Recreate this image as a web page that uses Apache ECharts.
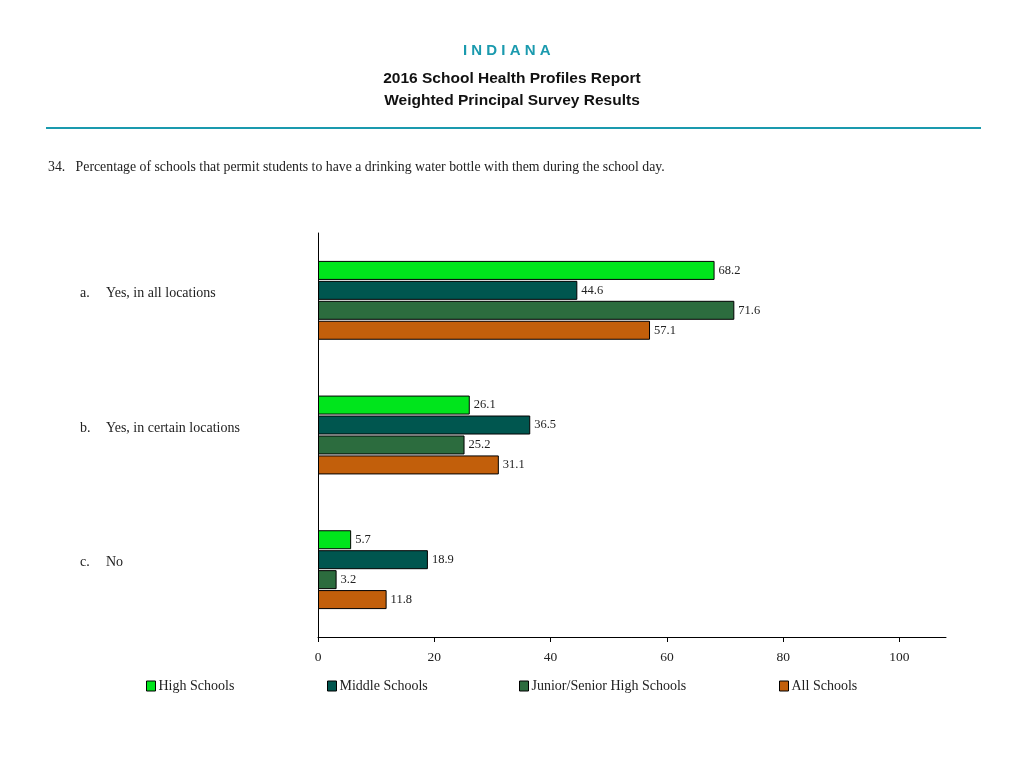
<!DOCTYPE html>
<html>
<head>
<meta charset="utf-8">
<script src="https://cdn.jsdelivr.net/npm/echarts@6/dist/echarts.min.js"></script>
<style>
  html, body { margin: 0; padding: 0; background: #fff; }
  #chart { width: 1024px; height: 768px; }
</style>
</head>
<body>
<div id="chart"></div>
<script>
var letters = ['a.', 'b.', 'c.'];
var categories = ['Yes, in all locations', 'Yes, in certain locations', 'No'];
var seriesNames = ['High Schools', 'Middle Schools', 'Junior/Senior High Schools', 'All Schools'];
var highSchools = [68.2, 26.1, 5.7];
var middleSchools = [44.6, 36.5, 18.9];
var juniorSenior = [71.6, 25.2, 3.2];
var allSchools = [57.1, 31.1, 11.8];
var xTicks = [0, 20, 40, 60, 80, 100];

var colors = ['#00e51c', '#00564f', '#2c6c3e', '#c25f0b'];
var values = [highSchools, middleSchools, juniorSenior, allSchools];
var legendLeft = [146, 327, 519, 779];
var serif = '"Liberation Serif", "DejaVu Serif", serif';
var sans = '"Liberation Sans", Arial, sans-serif';

var myChart = echarts.init(document.getElementById('chart'));

var series = [];
var legends = [];
for (var i = 0; i < seriesNames.length; i++) {
  series.push({
    name: seriesNames[i],
    type: 'bar',
    data: values[i],
    barWidth: 19,
    barGap: '5%',
    itemStyle: { color: colors[i], borderColor: '#000', borderWidth: 1 },
    label: {
      show: true,
      position: 'right',
      distance: 4,
      fontFamily: serif,
      fontSize: 12.5,
      color: '#222',
      formatter: function (p) { return p.value.toFixed(1); }
    }
  });
  legends.push({
    data: [seriesNames[i]],
    left: legendLeft[i],
    top: 679,
    padding: 0,
    itemWidth: 9,
    itemHeight: 10,
    itemGap: 0,
    icon: 'rect',
    itemStyle: { borderColor: '#000', borderWidth: 1 },
    textStyle: { fontFamily: serif, fontSize: 14, color: '#222', padding: [0, 0, 0, -2] }
  });
}

var option = {
  animation: false,
  legend: legends,
  grid: { left: 318, right: 78, top: 233, bottom: 131, containLabel: false },
  xAxis: {
    type: 'value',
    min: 0,
    max: 108,
    interval: 20,
    axisLine: { show: true, lineStyle: { color: '#000', width: 1 } },
    axisTick: { show: true, length: 5, lineStyle: { color: '#000' }, customValues: xTicks },
    axisLabel: { fontFamily: serif, fontSize: 13.5, color: '#222', margin: 13, customValues: xTicks },
    splitLine: { show: false }
  },
  yAxis: {
    type: 'category',
    inverse: true,
    data: categories,
    axisLine: { show: true, lineStyle: { color: '#000', width: 1 } },
    axisTick: { show: false },
    axisLabel: {
      align: 'left',
      margin: 238,
      padding: [0, 0, 14, 0],
      formatter: function (v, idx) { return '{n|' + letters[idx] + '}{t|' + v + '}'; },
      rich: {
        n: { fontFamily: serif, fontSize: 14, color: '#222', width: 26 },
        t: { fontFamily: serif, fontSize: 14, color: '#222' }
      }
    }
  },
  graphic: [
    { type: 'text', left: 463, top: 43,
      style: { text: 'I N D I A N A', fontFamily: sans, fontSize: 15, fontWeight: 'bold', fill: '#1a9aae' } },
    { type: 'text', left: 'center', top: 71,
      style: { text: '2016 School Health Profiles Report', fontFamily: sans, fontSize: 15.5, fontWeight: 'bold', fill: '#111' } },
    { type: 'text', left: 'center', top: 93,
      style: { text: 'Weighted Principal Survey Results', fontFamily: sans, fontSize: 15.5, fontWeight: 'bold', fill: '#111' } },
    { type: 'line', shape: { x1: 46, y1: 128, x2: 981, y2: 128 },
      style: { stroke: '#1a9aae', lineWidth: 2 } },
    { type: 'text', left: 48, top: 160,
      style: { text: '34.   Percentage of schools that permit students to have a drinking water bottle with them during the school day.',
        fontFamily: serif, fontSize: 13.8, fill: '#222' } }
  ],
  series: series
};

myChart.setOption(option);
</script>
</body>
</html>
